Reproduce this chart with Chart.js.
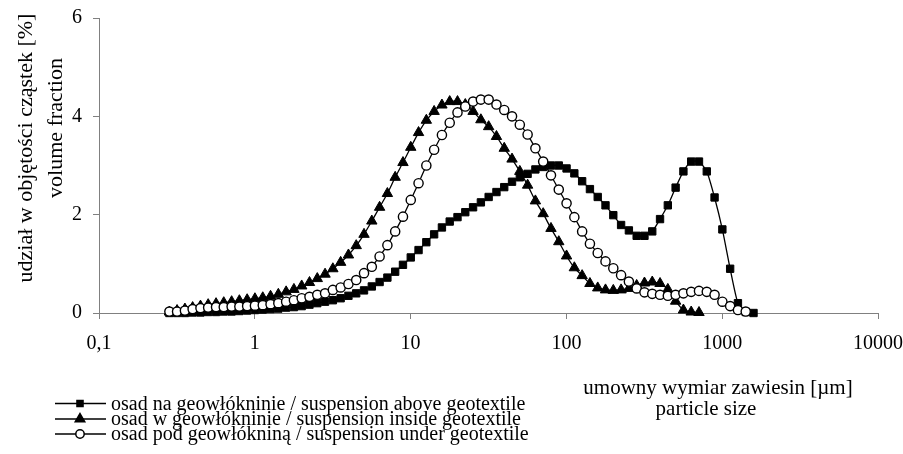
<!DOCTYPE html>
<html>
<head>
<meta charset="utf-8">
<script src="https://cdn.jsdelivr.net/npm/chart.js@4.4.1/dist/chart.umd.min.js"></script>
<style>
  body { margin: 0; background: #fff; }
</style>
</head>
<body>
<canvas id="SizeChart" width="903" height="454"></canvas>
<script>
// particle size classes [um]
var sizes = [0.283, 0.317, 0.356, 0.399, 0.448, 0.502, 0.564, 0.632, 0.710, 0.796,
    0.893, 1.002, 1.125, 1.262, 1.416, 1.589, 1.783, 2.000, 2.244, 2.518,
    2.825, 3.170, 3.557, 3.991, 4.477, 5.024, 5.637, 6.325, 7.096, 7.962,
    8.934, 10.024, 11.247, 12.619, 14.159, 15.887, 17.825, 20.000, 22.440, 25.179,
    28.251, 31.698, 35.566, 39.905, 44.774, 50.238, 56.368, 63.246, 70.963, 79.621,
    89.337, 100.237, 112.468, 126.191, 141.589, 158.866, 178.250, 200.000, 224.404, 251.785,
    282.508, 316.979, 355.656, 399.052, 447.744, 502.377, 563.677, 632.456, 709.627, 796.214,
    893.367, 1002.374, 1124.683, 1261.915, 1415.892, 1588.656];

// osad na geowlokninie (squares)
var above = [0, 0, 0, 0.01, 0.01, 0.02, 0.02, 0.03, 0.03, 0.04,
    0.05, 0.06, 0.07, 0.08, 0.09, 0.11, 0.12, 0.14, 0.17, 0.20,
    0.23, 0.26, 0.30, 0.35, 0.40, 0.46, 0.54, 0.63, 0.72, 0.84,
    0.98, 1.13, 1.28, 1.44, 1.60, 1.74, 1.86, 1.95, 2.05, 2.15,
    2.25, 2.36, 2.46, 2.56, 2.67, 2.76, 2.83, 2.92, 2.97, 3.00,
    3.00, 2.94, 2.84, 2.68, 2.52, 2.36, 2.19, 1.99, 1.79, 1.68,
    1.57, 1.57, 1.66, 1.91, 2.19, 2.55, 2.88, 3.08, 3.08, 2.88,
    2.35, 1.70, 0.90, 0.20, 0.02, 0];

// osad w geowlokninie (triangles)
var inside = [0.02, 0.05, 0.08, 0.11, 0.14, 0.17, 0.19, 0.21, 0.23, 0.25,
    0.27, 0.29, 0.31, 0.34, 0.38, 0.43, 0.48, 0.55, 0.62, 0.70,
    0.79, 0.90, 1.03, 1.18, 1.37, 1.60, 1.87, 2.15, 2.43, 2.76,
    3.06, 3.37, 3.67, 3.92, 4.10, 4.23, 4.30, 4.30, 4.24, 4.10,
    3.93, 3.79, 3.59, 3.35, 3.13, 2.88, 2.60, 2.28, 2.02, 1.72,
    1.45, 1.16, 0.92, 0.76, 0.60, 0.51, 0.47, 0.46, 0.47, 0.50,
    0.56, 0.61, 0.63, 0.60, 0.48, 0.24, 0.06, 0.02, 0.01];

// osad pod geowloknina (circles)
var under = [0.03, 0.03, 0.05, 0.08, 0.10, 0.11, 0.12, 0.12, 0.13, 0.13,
    0.14, 0.15, 0.16, 0.18, 0.20, 0.23, 0.26, 0.30, 0.33, 0.37,
    0.40, 0.47, 0.52, 0.59, 0.67, 0.81, 0.94, 1.15, 1.38, 1.66,
    1.96, 2.30, 2.64, 3.00, 3.32, 3.62, 3.87, 4.08, 4.20, 4.30,
    4.34, 4.34, 4.24, 4.13, 4.00, 3.83, 3.63, 3.35, 3.08, 2.80,
    2.51, 2.23, 1.95, 1.66, 1.41, 1.22, 1.05, 0.91, 0.77, 0.64,
    0.50, 0.42, 0.39, 0.37, 0.35, 0.37, 0.40, 0.43, 0.45, 0.43,
    0.37, 0.23, 0.14, 0.06, 0.03];

var xTicks = [0.1, 1, 10, 100, 1000, 10000];
var seriesNames = [
    'osad na geowłókninie / suspension above geotextile',
    'osad w geowłókninie / suspension inside geotextile',
    'osad pod geowłókniną / suspension under geotextile'
];
var yTitle = ['udział w objętości cząstek [%]', 'volume fraction'];
var xTitle = ['umowny wymiar zawiesin [µm]', 'particle size'];

var serif = "'Liberation Serif', 'Times New Roman', serif";
Chart.defaults.font.family = serif;
Chart.defaults.color = '#000';

function toPoints(vals) {
    return vals.map(function (v, i) { return { x: sizes[i], y: v }; });
}

// legend + axis titles drawn by hand (Excel-like placement)
var decorations = {
    id: 'decorations',
    afterDraw: function (chart) {
        var ctx = chart.ctx;
        ctx.save();
        ctx.fillStyle = '#000';

        // y title, rotated
        ctx.font = '22px ' + serif;
        ctx.textAlign = 'center';
        ctx.textBaseline = 'alphabetic';
        ctx.save(); ctx.translate(32, 148); ctx.rotate(-Math.PI / 2);
        ctx.fillText(yTitle[0], 0, 0); ctx.restore();
        ctx.save(); ctx.translate(62, 128); ctx.rotate(-Math.PI / 2);
        ctx.fillText(yTitle[1], 0, 0); ctx.restore();

        // x title
        ctx.font = '21px ' + serif;
        ctx.fillText(xTitle[0], 718, 394);
        ctx.fillText(xTitle[1], 706, 415);

        // legend
        var styles = ['rect', 'triangle', 'circle'];
        var lineY = [403.5, 419, 434];
        ctx.font = '20px ' + serif;
        ctx.textAlign = 'left';
        for (var i = 0; i < 3; i++) {
            var y = lineY[i];
            ctx.strokeStyle = '#000';
            ctx.lineWidth = 1.5;
            ctx.beginPath(); ctx.moveTo(55, y); ctx.lineTo(106, y); ctx.stroke();
            ctx.fillStyle = i === 2 ? '#fff' : '#000';
            Chart.helpers.drawPoint(ctx, {
                pointStyle: styles[i], radius: i === 0 ? 4.3 : (i === 1 ? 5.5 : 4.2),
                borderWidth: 1.4, rotation: 0
            }, 80, y);
            ctx.fillStyle = '#000';
            ctx.fillText(seriesNames[i], 111, y + 6.2);
        }
        ctx.restore();
    }
};

var ctx = document.getElementById('SizeChart').getContext('2d');
var sizeChart = new Chart(ctx, {
    type: 'line',
    data: {
        datasets: [{
            label: seriesNames[2],
            data: toPoints(under),
            order: 0,
            borderColor: '#000',
            borderWidth: 1.3,
            pointStyle: 'circle',
            pointRadius: 4.6,
            pointBackgroundColor: '#fff',
            pointBorderColor: '#000',
            pointBorderWidth: 1.4,
            tension: 0.2,
            clip: false
        }, {
            label: seriesNames[1],
            data: toPoints(inside),
            order: 1,
            borderColor: '#000',
            borderWidth: 1.3,
            pointStyle: 'triangle',
            pointRadius: 6,
            pointBackgroundColor: '#000',
            pointBorderColor: '#000',
            pointBorderWidth: 1,
            tension: 0.2,
            clip: false
        }, {
            label: seriesNames[0],
            data: toPoints(above),
            order: 2,
            borderColor: '#000',
            borderWidth: 1.3,
            pointStyle: 'rect',
            pointRadius: 5.2,
            pointBackgroundColor: '#000',
            pointBorderColor: '#000',
            pointBorderWidth: 1,
            tension: 0.2,
            clip: false
        }]
    },
    options: {
        responsive: false,
        devicePixelRatio: 1,
        animation: false,
        layout: { padding: { left: 0, top: 18, right: 25, bottom: 0 }, autoPadding: false },
        plugins: { legend: { display: false }, tooltip: { enabled: false } },
        scales: {
            x: {
                type: 'logarithmic',
                min: 0.1,
                max: 10000,
                afterFit: function (s) {
                    s.height = 141;
                    s.paddingLeft = 0; s.paddingRight = 0;
                },
                afterBuildTicks: function (s) {
                    s.ticks = xTicks.map(function (v) { return { value: v }; });
                },
                grid: { drawOnChartArea: false, tickLength: 6, color: '#808080' },
                border: { color: '#808080', width: 1 },
                ticks: {
                    font: { size: 20 },
                    color: '#000',
                    padding: 13,
                    maxRotation: 0,
                    autoSkip: false,
                    callback: function (v) { return String(v).replace('.', ','); }
                }
            },
            y: {
                min: 0,
                max: 6,
                afterFit: function (s) {
                    s.width = 99;
                    s.paddingTop = 0; s.paddingBottom = 0;
                },
                grid: { drawOnChartArea: false, tickLength: 6, color: '#808080' },
                border: { color: '#808080', width: 1 },
                ticks: { stepSize: 2, font: { size: 20 }, color: '#000', padding: 11 }
            }
        }
    },
    plugins: [decorations]
});
</script>
</body>
</html>
